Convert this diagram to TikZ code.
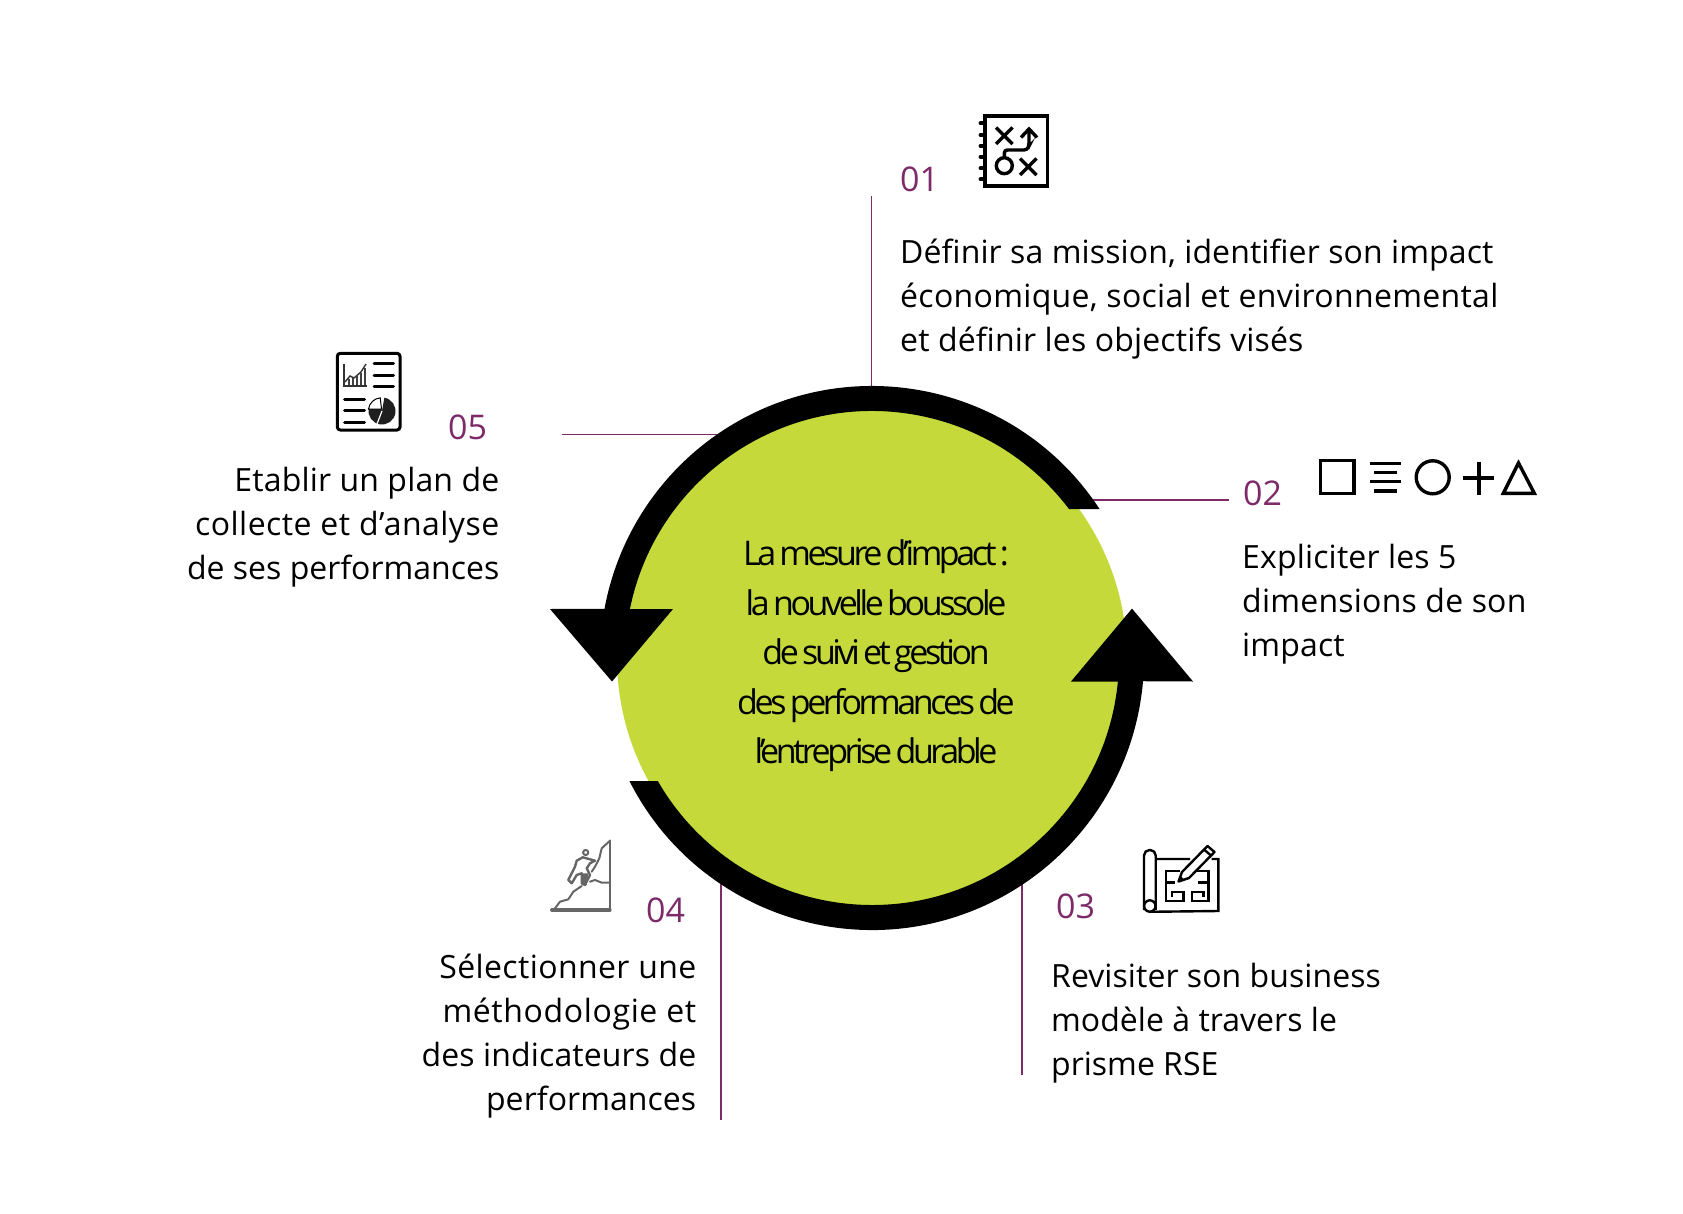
\documentclass[tikz,border=0pt]{standalone}
\usepackage{fontspec}
\setmainfont{Open Sans}
\newfontfamily\centerfont[LetterSpace=-10,WordSpace=0.6]{Open Sans}
\newcommand{\lsp}[2]{{\addfontfeature{LetterSpace=#1}#2}}
\usetikzlibrary{calc}
\definecolor{leaf}{HTML}{C5DA3A}
\definecolor{plum}{HTML}{7D2A68}
\definecolor{rockgray}{HTML}{666666}
\tikzset{
  body/.style={inner sep=0pt,font=\fontsize{32}{44}\selectfont},
  bodyleft/.style={body,align=left,anchor=base west},
  bodyright/.style={body,align=right,anchor=base east},
  num/.style={inner sep=0pt,text=plum,font=\fontsize{34}{40}\selectfont,anchor=base west},
  centerline/.style={inner sep=0pt,font=\fontsize{34}{40}\centerfont,anchor=base},
  leader/.style={draw=plum,line width=1.1pt},
  icon/.style={draw=black,line width=3.4pt,fill=none},
  thinicon/.style={draw=black,line width=2.4pt,fill=none},
  rock/.style={draw=rockgray,line width=2pt,fill=none,line join=round,line cap=round},
}
\begin{document}
\begin{tikzpicture}[x=1pt,y=-1pt]
\useasboundingbox (0,0) rectangle (1683,1214);
\fill[white] (0,0) rectangle (1683,1214);
% leaders (behind the ring)
\coordinate (a1) at (871.5,196); \coordinate (b1) at (871.5,392);
\coordinate (a2) at (1229,500);  \coordinate (b2) at (1085,500);
\coordinate (a3) at (1022,1075); \coordinate (b3) at (1022,880);
\coordinate (a4) at (721,1119.5);\coordinate (b4) at (721,880);
\coordinate (a5) at (562,434.5); \coordinate (b5) at (725,434.5);
\foreach \n in {1,...,5} \draw[leader] (a\n) -- (b\n);
% disc
\fill[leaf] (872,658) circle[radius=255pt];
% ring arrows
\begin{scope}[shift={(872,658)},y=1pt]
  \fill[black] (33.2:272pt) arc[start angle=33.2,end angle=169.6,radius=272pt]
     -- (-322,49) -- (-260,-23.5) -- (-199,49) -- (168.56:247pt)
     arc[start angle=168.56,end angle=37.1,radius=247pt] -- cycle;
  \fill[black] (-153.1:272pt) arc[start angle=-153.1,end angle=-4.9,radius=272pt]
     -- (321,-23.5) -- (260,49.4) -- (199,-23.5) -- (-5.5:247pt)
     arc[start angle=-5.5,end angle=-150.1,radius=247pt] -- cycle;
\end{scope}
% centre text
\node[centerline] (c1) at (876,565) {La mesure d’impact :};
\node[centerline] (c2) at (876,615) {la nouvelle boussole};
\node[centerline] (c3) at (876,664) {de suivi et gestion};
\node[centerline] (c4) at (876,714) {des performances de};
\node[centerline] (c5) at (876,763) {l’entreprise durable};
% numbers
\node[num] (n1) at (900,192) {01};
\node[num] (n2) at (1243,505) {02};
\node[num] (n3) at (1056,918) {03};
\node[num] (n4) at (646,922) {04};
\node[num] (n5) at (448,439) {05};
% body text
\node[bodyleft] (t1) at (900,351.5) {\lsp{0.35}{Définir sa mission, identifier son impact}\\\lsp{1.0}{économique, social et environnemental}\\\lsp{0.5}{et définir les objectifs visés}};
\node[bodyleft] (t2) at (1242,656) {\lsp{0.5}{Expliciter les 5}\\\lsp{0.7}{dimensions de son}\\\lsp{0.5}{impact}};
\node[bodyleft] (t3) at (1051,1075) {\lsp{0.2}{Revisiter son business}\\\lsp{0.1}{modèle à travers le}\\prisme RSE};
\node[bodyright] (t4) at (696.5,1110) {\lsp{1.25}{Sélectionner une}\\\lsp{2}{méthodologie et}\\\lsp{0.4}{des indicateurs de}\\\lsp{0.2}{performances}};
\node[bodyright] (t5) at (499.5,579) {\lsp{0.5}{Etablir un plan de}\\\lsp{1.5}{collecte et d’analyse}\\de ses performances};
% icon 01
\draw[icon] (985,116) rectangle (1047.7,186);
\foreach \yy in {123.3,135,146,156.7,168.3,179.3} \draw[line width=3.8pt,line cap=round] (980.5,\yy) -- (985,\yy);
\draw[icon] (996,127.5) -- (1012.5,144) (1012.5,127.5) -- (996,144);
\draw[icon] (1020,158.5) -- (1036.5,175) (1036.5,158.5) -- (1020,175);
\draw[icon] (1004.3,165.7) circle[radius=8pt];
\draw[icon,rounded corners=3pt] (1004.3,157.5) -- (1004.3,150) -- (1027,150) -- (1029,146) -- (1029,130);
\draw[icon] (1021,137.5) -- (1029,129) -- (1037,137.5);
% icon 02
\draw[icon] (1320.7,460.7) rectangle (1354,493.3);
\draw[icon] (1370,463.3) -- (1400.7,463.3) (1374,472.3) -- (1396.7,472.3) (1370,481.7) -- (1400.7,481.7) (1374,491) -- (1396.7,491);
\draw[icon] (1432.7,477.3) circle[radius=16.5pt];
\draw[icon,line width=4pt] (1463,478.3) -- (1494.4,478.3) (1478.7,461.6) -- (1478.7,495);
\draw[icon,line join=miter] (1518.5,463) -- (1503.3,493.3) -- (1534.3,493.3) -- cycle;
% icon 03
\draw[thinicon,rounded corners=5.5pt] (1144,910) -- (1144,850) -- (1155.7,850) -- (1155.7,910);
\draw[thinicon] (1149.8,906) circle[radius=5.7pt];
\draw[thinicon] (1155.7,859) -- (1190,859) (1211.7,859) -- (1218.3,859) -- (1218.3,911) -- (1149.8,911.8);
\draw[thinicon] (1180,870.7) -- (1166,870.7) -- (1166,900.7) -- (1183.3,900.7) -- (1183.3,891.7) -- (1171.7,891.7) -- (1171.7,896.7) (1166,882.3) -- (1175,882.3);
\draw[thinicon] (1191.7,870.7) -- (1208.3,870.7) -- (1208.3,900.7) -- (1191.7,900.7) -- (1191.7,891.7) -- (1203.3,891.7) -- (1203.3,896.7) (1198,882.3) -- (1208.3,882.3);
\draw[thinicon,fill=white,line join=round] (1178.5,881.5) -- (1182,872) -- (1207.5,846) -- (1214.5,852) -- (1189,878) -- cycle;
\fill[black] (1178.5,881.5) -- (1180.5,876) -- (1184,879.5) -- cycle;
\draw[thinicon] (1204,849.5) -- (1211,855.5);
% icon 04
\draw[rock,line width=3.2pt] (551.7,910) -- (610,910);
\draw[rock,line width=2.6pt] (610,910) -- (610,840.7);
\draw[rock] (551.7,910) -- (555,908.3) -- (560,901.7) -- (568.3,899.3) -- (573.3,891.7) -- (581.7,886);
\draw[rock] (590,881.7) -- (595,880) -- (601.7,882.7) -- (610,882.7);
\draw[rock] (610,840.7) -- (601.7,848.3) -- (599.3,858.3) -- (595,866.7) -- (591.7,871.7);
\draw[rock] (585.7,852.5) circle[radius=2.6pt];
\draw[rock,fill=white,line width=2.4pt] (582.7,857.3) -- (590,859.3) -- (595,860.7) -- (590,863.3) -- (586.7,868.3) -- (590,875) -- (585,885) -- (581.7,883.3) -- (581.7,873.3) -- (576.7,875) -- (571.7,883.3) -- (568.3,880) -- (575,866.7) -- (576.7,860.7) -- cycle;
\fill[rockgray] (582.7,873.3) -- (588.3,873.3) -- (586.7,885) -- (581.7,883.3) -- cycle;
% icon 05
\draw[thinicon,line width=3pt,rounded corners=3pt] (337.3,353.3) rectangle (400,430);
\draw[line width=1.5pt,draw=black!80] (344,363.5) -- (344,386) -- (367.3,386);
\draw[line width=1.4pt,draw=black!80] (345,382) -- (350,376) -- (354,378) -- (361,372) -- (366,364);
\foreach \xx/\yy in {349/379,353/378,357/376,361/373,365/368} \draw[line width=2.4pt,draw=black!75] (\xx,385) -- (\xx,\yy);
\foreach \yy in {363.3,375,386.7} \draw[line width=3pt,line cap=round] (374,\yy) -- (393.5,\yy);
\foreach \yy in {399.3,410.7,422.3} \draw[line width=3pt,line cap=round] (344.5,\yy) -- (364.5,\yy);
\begin{scope}[shift={(382,411)},y=1pt]
  \fill[black!88] (0,0) -- (80:13.5pt) arc[start angle=80,end angle=-250,radius=13.5pt] -- cycle;
  \draw[black,line width=1pt,fill=white] (-0.5,2) -- (-13.5,2) arc[start angle=172,end angle=95,radius=13pt] -- cycle;
  \draw[white,line width=1.2pt] (0,0) -- (-5,-13);
\end{scope}
\end{tikzpicture}
\end{document}
